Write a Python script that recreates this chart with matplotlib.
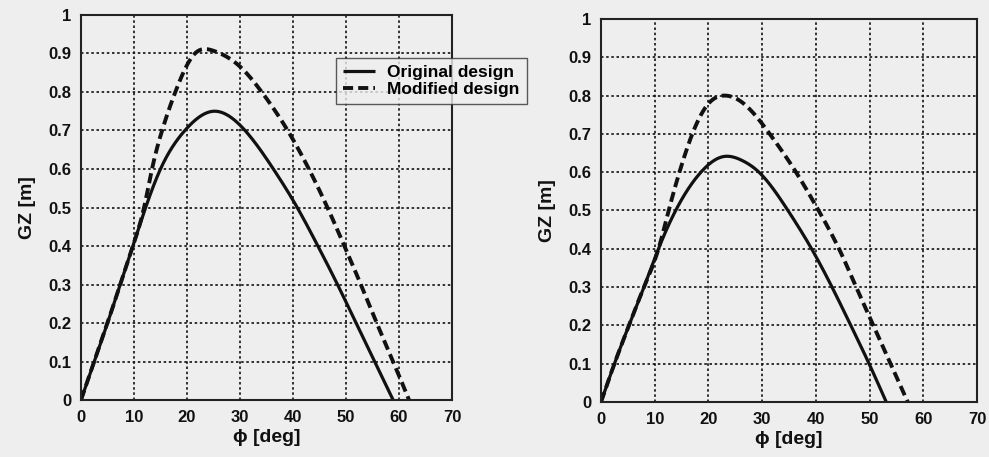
import matplotlib
matplotlib.use("Agg")
import matplotlib.pyplot as plt
import numpy as np

plt.rcParams['font.family'] = ['Liberation Sans', 'DejaVu Sans']
plt.rcParams['font.weight'] = 'bold'

# Left panel
left_orig_x = [0, 2.5, 5.0, 7.4, 9.8, 12.2, 15.0, 19.6, 25.0, 30.0, 36.3, 40.8, 44.7, 48.4, 51.9, 55.4, 58.9]
left_orig_y = [0, 0.1, 0.2, 0.3, 0.4, 0.5, 0.6, 0.7, 0.75, 0.714, 0.6, 0.5, 0.4, 0.3, 0.2, 0.1, 0]
left_mod_x = [0, 2.5, 5.0, 7.4, 9.8, 11.9, 13.4, 15.3, 17.8, 21.5, 25.0, 30.0, 34.1, 39.0, 43.0, 46.5, 49.7, 52.8, 55.8, 58.9, 61.9]
left_mod_y = [0, 0.1, 0.2, 0.3, 0.4, 0.5, 0.6, 0.7, 0.8, 0.9, 0.907, 0.866, 0.8, 0.7, 0.6, 0.5, 0.4, 0.3, 0.2, 0.1, 0]

# Right panel
right_orig_x = [0, 2.5, 5.2, 8.0, 10.7, 13.9, 18.6, 22.9, 26.2, 29.4, 34.8, 39.2, 43.0, 46.5, 49.9, 53.1]
right_orig_y = [0, 0.1, 0.2, 0.3, 0.4, 0.5, 0.6, 0.641, 0.631, 0.6, 0.5, 0.4, 0.3, 0.2, 0.1, 0]
right_mod_x = [0, 2.5, 5.2, 8.0, 10.7, 12.6, 14.6, 17.0, 20.0, 22.9, 26.2, 31.4, 36.3, 40.5, 44.3, 47.5, 50.7, 53.9, 57.1]
right_mod_y = [0, 0.1, 0.2, 0.3, 0.4, 0.5, 0.6, 0.7, 0.779, 0.80, 0.783, 0.7, 0.6, 0.5, 0.4, 0.3, 0.2, 0.1, 0]

labels = ['Original design', 'Modified design']
xticks = [0, 10, 20, 30, 40, 50, 60, 70]
yticks = [0, 0.1, 0.2, 0.3, 0.4, 0.5, 0.6, 0.7, 0.8, 0.9, 1]
ytick_labels = ['0', '0.1', '0.2', '0.3', '0.4', '0.5', '0.6', '0.7', '0.8', '0.9', '1']


def spline(x, y, n=500):
    """Natural cubic spline through the read points."""
    x = np.asarray(x, float); y = np.asarray(y, float)
    k = len(x); h = np.diff(x)
    A = np.zeros((k, k)); b = np.zeros(k)
    A[0, 0] = A[-1, -1] = 1
    for i in range(1, k - 1):
        A[i, i - 1] = h[i - 1]; A[i, i] = 2 * (h[i - 1] + h[i]); A[i, i + 1] = h[i]
        b[i] = 6 * ((y[i + 1] - y[i]) / h[i] - (y[i] - y[i - 1]) / h[i - 1])
    M = np.linalg.solve(A, b)
    xs = np.linspace(x[0], x[-1], n)
    idx = np.clip(np.searchsorted(x, xs) - 1, 0, k - 2)
    x0 = x[idx]; x1 = x[idx + 1]; hh = h[idx]
    ys = (M[idx] * (x1 - xs) ** 3 / (6 * hh) + M[idx + 1] * (xs - x0) ** 3 / (6 * hh)
          + (y[idx] / hh - M[idx] * hh / 6) * (x1 - xs)
          + (y[idx + 1] / hh - M[idx + 1] * hh / 6) * (xs - x0))
    return xs, ys


bg = '#eeeeee'
ink = '#111111'
fig = plt.figure(figsize=(9.89, 4.57), dpi=100, facecolor=bg)
ax1 = fig.add_axes([0.0819, 0.1247, 0.3751, 0.8425])
ax2 = fig.add_axes([0.6077, 0.1204, 0.3802, 0.8381])

handles = None
for ax, ox, oy, mx, my in [(ax1, left_orig_x, left_orig_y, left_mod_x, left_mod_y),
                           (ax2, right_orig_x, right_orig_y, right_mod_x, right_mod_y)]:
    ax.set_facecolor(bg)
    l1, = ax.plot(*spline(ox, oy), color=ink, lw=2.3, label=labels[0], solid_capstyle='butt')
    l2, = ax.plot(*spline(mx, my), color=ink, lw=2.8, ls=(0, (2.6, 1.3)), label=labels[1])
    handles = [l1, l2]
    ax.set_xlim(0, 70)
    ax.set_ylim(0, 1)
    ax.set_xticks(xticks)
    ax.set_yticks(yticks)
    ax.set_yticklabels(ytick_labels)
    ax.grid(True, color=ink, ls=(0, (1.5, 1.6)), lw=1.2)
    ax.tick_params(direction='in', length=0, labelsize=12, pad=7, colors=ink)
    for t in ax.get_xticklabels() + ax.get_yticklabels():
        t.set_fontweight('bold')
    for s in ax.spines.values():
        s.set_color('#222222'); s.set_linewidth(1.5)
    ax.set_xlabel('ϕ [deg]', fontsize=14, fontweight='bold', labelpad=3, color=ink)
    ax.set_ylabel('GZ [m]', fontsize=14, fontweight='bold', labelpad=9, color=ink)

leg = fig.legend(handles, labels, loc='upper left', bbox_to_anchor=(336 / 989, 1 - 58 / 457),
                 frameon=True, fancybox=False, fontsize=12.5, handlelength=1.85,
                 borderpad=0.4, labelspacing=0.12, handletextpad=0.7, borderaxespad=0)
leg.get_frame().set_edgecolor('#333333')
leg.get_frame().set_facecolor(bg)
leg.get_frame().set_linewidth(1.0)
for t in leg.get_texts():
    t.set_fontweight('bold')

fig.savefig('out.png', dpi=100, facecolor=bg)
